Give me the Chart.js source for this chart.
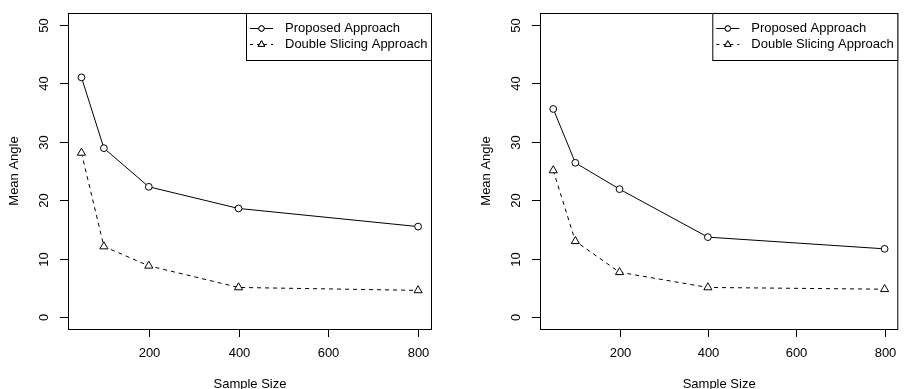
<!DOCTYPE html>
<html>
<head>
<meta charset="utf-8">
<script src="https://cdn.jsdelivr.net/npm/chart.js@4.4.1/dist/chart.umd.min.js"></script>
<style>
  html, body { margin: 0; padding: 0; background: #fff; }
  #wrap { position: relative; width: 904px; height: 389px; overflow: hidden; }
  canvas { position: absolute; top: 0; }
</style>
</head>
<body>
<div id="wrap">
  <canvas id="leftChart" width="452" height="389" style="left:0"></canvas>
  <canvas id="rightChart" width="452" height="389" style="left:452px"></canvas>
</div>
<script>
// --- Data ---
const sampleSizes = [50, 100, 200, 400, 800];
const seriesNames = ['Proposed Approach', 'Double Slicing Approach'];

const leftProposed = [41.0, 28.9, 22.3, 18.6, 15.5];
const leftDouble = [28.1, 12.1, 8.8, 5.1, 4.6];

const rightProposed = [35.6, 26.4, 21.9, 13.7, 11.7];
const rightDouble = [25.1, 13.0, 7.7, 5.1, 4.8];

const xTicks = [200, 400, 600, 800];
const yTicks = [0, 10, 20, 30, 40, 50];

const FONT = '13px "Liberation Sans", Arial, Helvetica, sans-serif';

function toPoints(values) {
    return sampleSizes.map((x, i) => ({ x: x, y: values[i] }));
}

// --- R-style frame, axes and legend ---
const rFramePlugin = {
    id: 'rFrame',
    afterDraw(chart) {
        const ctx = chart.ctx;
        const area = chart.chartArea;
        const xs = chart.scales.x;
        const ys = chart.scales.y;

        ctx.save();
        ctx.strokeStyle = '#000';
        ctx.fillStyle = '#000';
        ctx.lineWidth = 1;
        ctx.setLineDash([]);

        // box
        ctx.strokeRect(area.left + 0.5, area.top + 0.5, area.right - area.left - 1, area.bottom - area.top);

        ctx.font = FONT;

        // x axis ticks + labels
        ctx.textAlign = 'center';
        ctx.textBaseline = 'middle';
        xTicks.forEach(v => {
            const px = Math.round(xs.getPixelForValue(v)) + 0.5;
            ctx.beginPath();
            ctx.moveTo(px, area.bottom);
            ctx.lineTo(px, area.bottom + 8);
            ctx.stroke();
            ctx.fillText(String(v), px, area.bottom + 24);
        });
        ctx.fillText('Sample Size', (area.left + area.right) / 2, area.bottom + 55);

        // y axis ticks + rotated labels
        yTicks.forEach(v => {
            const py = Math.round(ys.getPixelForValue(v)) + 0.5;
            ctx.beginPath();
            ctx.moveTo(area.left - 8, py);
            ctx.lineTo(area.left, py);
            ctx.stroke();
            ctx.save();
            ctx.translate(area.left - 24, py);
            ctx.rotate(-Math.PI / 2);
            ctx.fillText(String(v), 0, 0);
            ctx.restore();
        });
        ctx.save();
        ctx.translate(area.left - 54, (area.top + area.bottom) / 2);
        ctx.rotate(-Math.PI / 2);
        ctx.fillText('Mean Angle', 0, 0);
        ctx.restore();

        // legend, top right
        const lw = 186, lh = 47;
        const lx = area.right - lw;
        const ly = area.top;
        ctx.fillStyle = '#fff';
        ctx.fillRect(lx, ly, lw, lh);
        ctx.strokeRect(lx + 0.5, ly + 0.5, lw - 1, lh);
        ctx.fillStyle = '#000';
        ctx.textAlign = 'left';
        chart.data.datasets.forEach((ds, i) => {
            const ry = ly + 15.5 + i * 16;
            ctx.setLineDash(ds.borderDash ? [3, 4] : []);
            ctx.beginPath();
            ctx.moveTo(lx + 4, ry);
            ctx.lineTo(lx + 27, ry);
            ctx.stroke();
            ctx.setLineDash([]);
            ctx.fillStyle = '#fff';
            Chart.helpers.drawPoint(ctx, {
                pointStyle: ds.pointStyle,
                radius: ds.pointRadius * 0.8,
                borderWidth: 1
            }, lx + 15.5, ry);
            ctx.fill();
            ctx.stroke();
            ctx.fillStyle = '#000';
            ctx.fillText(ds.label, lx + 39, ry);
        });
        ctx.restore();
    }
};

function makeChart(canvasId, proposed, doubleSlicing, padLeft, padRight) {
    const ctx = document.getElementById(canvasId).getContext('2d');
    return new Chart(ctx, {
        type: 'scatter',
        data: {
            datasets: [
                {
                    label: seriesNames[0],
                    data: toPoints(proposed),
                    showLine: true,
                    borderColor: '#000',
                    borderWidth: 1,
                    pointStyle: 'circle',
                    pointRadius: 3.4,
                    pointBackgroundColor: '#fff',
                    pointBorderColor: '#000',
                    pointBorderWidth: 1
                },
                {
                    label: seriesNames[1],
                    data: toPoints(doubleSlicing),
                    showLine: true,
                    borderColor: '#000',
                    borderWidth: 1,
                    borderDash: [4, 4],
                    pointStyle: 'triangle',
                    pointRadius: 4.7,
                    pointBackgroundColor: '#fff',
                    pointBorderColor: '#000',
                    pointBorderWidth: 1
                }
            ]
        },
        options: {
            responsive: false,
            animation: false,
            devicePixelRatio: 1,
            layout: { padding: { left: padLeft, right: padRight, top: 13, bottom: 60 } },
            plugins: {
                legend: { display: false },
                tooltip: { enabled: false }
            },
            scales: {
                x: { type: 'linear', min: 20, max: 831, display: false },
                y: { type: 'linear', min: -2, max: 52, display: false }
            }
        },
        plugins: [rFramePlugin]
    });
}

makeChart('leftChart', leftProposed, leftDouble, 68, 20);
makeChart('rightChart', rightProposed, rightDouble, 88, 0);
</script>
</body>
</html>
